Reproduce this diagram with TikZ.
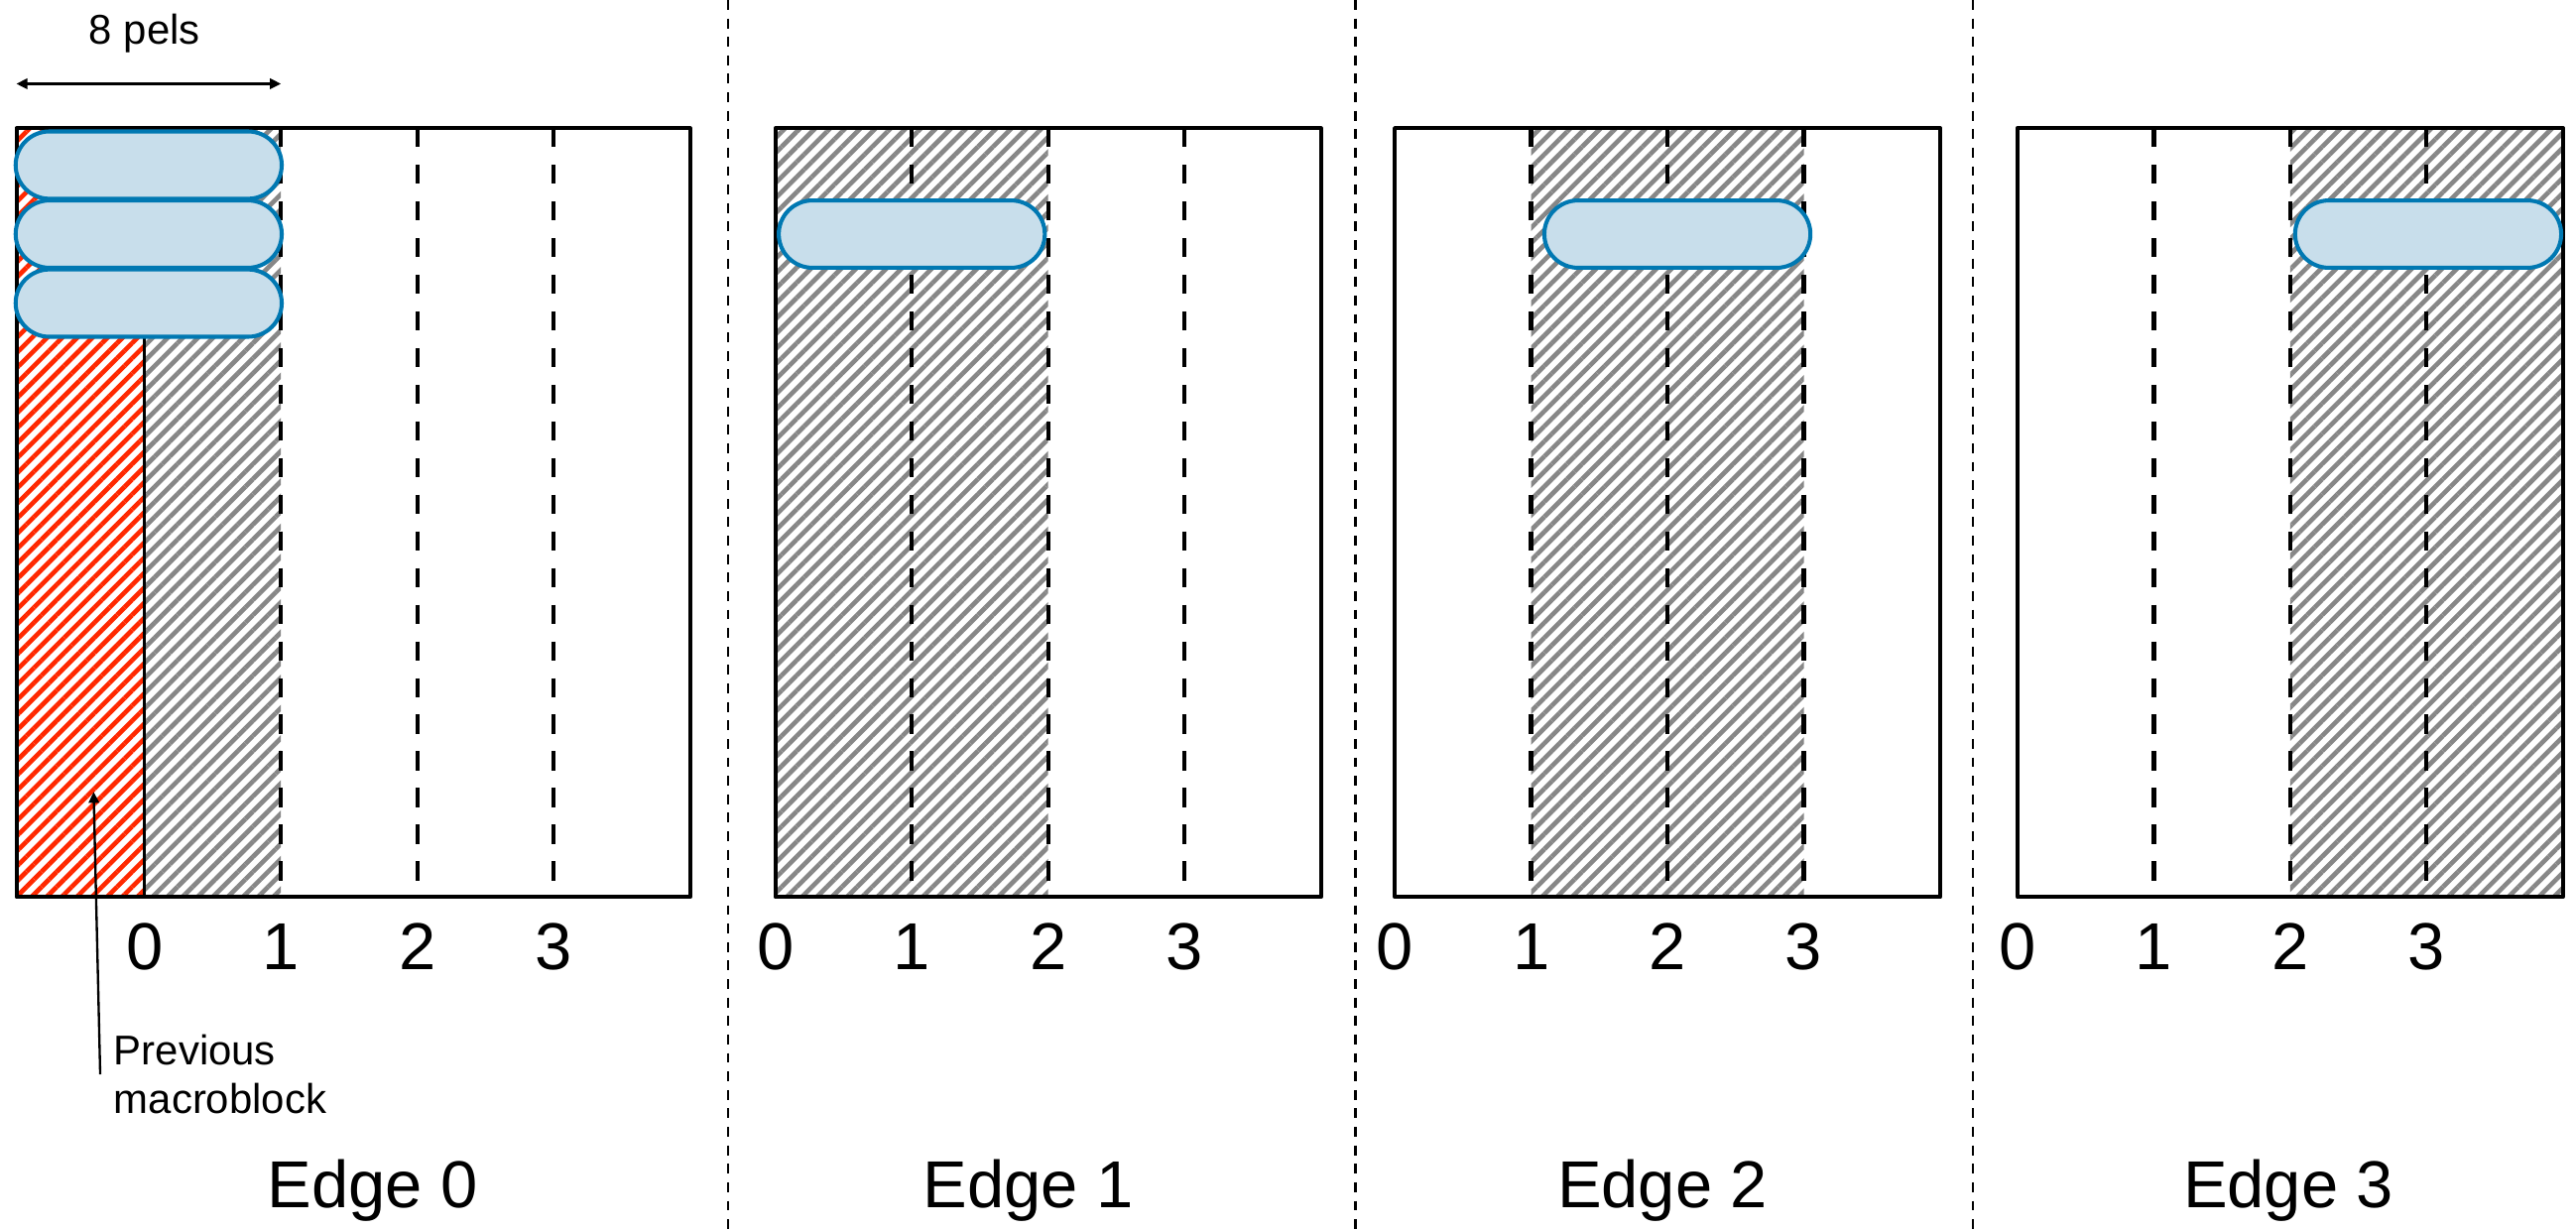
\documentclass[tikz,border=0pt]{standalone}
\usepackage{fontspec}
\setmainfont{Liberation Sans}
\usetikzlibrary{patterns.meta,arrows.meta}

\definecolor{capsuleBlue}{RGB}{0,120,178}
\definecolor{capsuleFill}{RGB}{200,222,235}
\definecolor{hatchGray}{RGB}{135,135,135}
\definecolor{hatchRed}{RGB}{255,40,0}

\begin{document}
\begin{tikzpicture}
[x=0.02cm,y=-0.02cm,%
  blockBorder/.style={line width=1.4pt,line join=round},%
  gridDash/.style={line width=1.5pt,dash pattern=on 6.6pt off 6.1pt},%
  edgeSep/.style={line width=0.8pt,dash pattern=on 3.4pt off 3pt},%
  grayHatch/.style={pattern={Lines[angle=45,distance=3.7pt,line width=1.6pt]},pattern color=hatchGray},%
  redHatch/.style={pattern={Lines[angle=45,distance=3.7pt,line width=1.6pt]},pattern color=hatchRed},%
  capsule/.style={draw=capsuleBlue,fill=capsuleFill,line width=1.4pt,inner sep=0pt,%
    minimum width=3.24cm,minimum height=0.82cm,rounded corners=0.41cm},%
  numLabel/.style={font=\fontsize{23}{27}\selectfont,anchor=base,inner sep=0pt},%
  edgeLabel/.style={font=\fontsize{23}{27}\selectfont,anchor=base,inner sep=0pt},%
  noteLabel/.style={font=\fontsize{14.4}{17}\selectfont,align=left,inner sep=0.16cm},%
  noteArrow/.style={line width=0.8pt,-{Triangle[length=3.8pt,width=3.6pt]}}]
\useasboundingbox (0,0) rectangle (1568,749);
%% previous macroblock column
\fill[redHatch] (10,78) rectangle (88,546);
%% one panel per edge: origin, left side, hatched columns, label
\foreach \p/\ox/\lft/\hfrom/\hto/\lx in {
  0/88/10/0/1/227, 1/472/472/0/2/626, 2/849/849/1/3/1012, 3/1228/1228/2/4/1393}
{
  \fill[grayHatch] (\ox+\hfrom*83,78) rectangle (\ox+\hto*83,546);
  \draw[blockBorder] (\lft,78) rectangle (\ox+332,546);
  \foreach \k in {1,2,3}
    \draw[gridDash] (\ox+\k*83,78) -- (\ox+\k*83,546);
  \foreach \k in {0,1,2,3}
    \node[numLabel] (num\p\k) at (\ox+\k*83,590) {\k};
  \node[edgeLabel] (edge\p) at (\lx,735) {Edge \p};
}
\draw[line width=1.2pt] (88,78) -- (88,546);
%% filter runs
\foreach \r/\y in {a/100.5, b/142.5, c/184.5}
  \node[capsule] (run0\r) at (90.5,\y) {};
\foreach \p/\cx in {1/555, 2/1021, 3/1478}
  \node[capsule] (run\p) at (\cx,142.5) {};
%% separators
\foreach \x in {443,825,1201}
  \draw[edgeSep] (\x,0) -- (\x,749);
%% notes
\coordinate (pelsL) at (10,51);
\coordinate (pelsR) at (171,51);
\node[noteLabel,anchor=base] (pels) at (88,27) {8 pels};
\draw[line width=0.8pt,{Triangle[length=3.8pt,width=3.6pt]}-{Triangle[length=3.8pt,width=3.6pt]}] (pelsL) -- (pelsR);
\node[noteLabel,anchor=west] (prev) at (61,654) {Previous\\macroblock};
\coordinate (prevTip) at (57,482);
\draw[noteArrow] (prev.west) -- (prevTip);
\end{tikzpicture}
\end{document}
